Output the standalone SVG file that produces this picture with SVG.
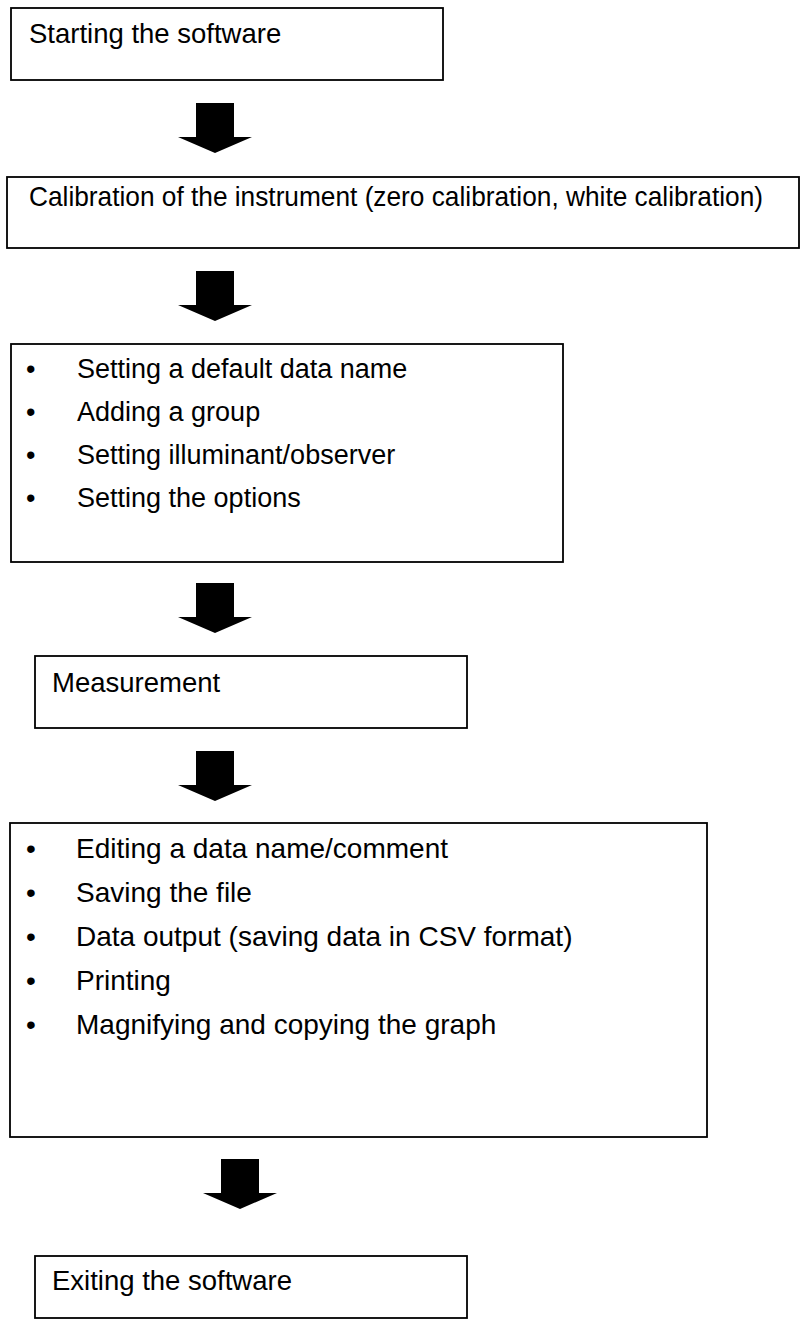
<svg xmlns="http://www.w3.org/2000/svg" width="801" height="1323" viewBox="0 0 801 1323">
<style>
.box{fill:#fff;stroke:#000;stroke-width:1.8}
.t{font-family:"Liberation Sans",Arial,sans-serif;font-size:27.5px;fill:#000}
.s{font-size:27px}
.l{font-size:28px}
.arrow{fill:#000}
</style>
<defs>
<path id="arr" d="M-19,0 H19 V34 H37 L0,50 L-37,34 H-19 Z"/>
</defs>
<rect width="801" height="1323" fill="#fff"/>
<g id="connectors">
<use href="#arr" class="arrow" transform="translate(215,103)"/>
<use href="#arr" class="arrow" transform="translate(215,271)"/>
<use href="#arr" class="arrow" transform="translate(215,583)"/>
<use href="#arr" class="arrow" transform="translate(215,751)"/>
<use href="#arr" class="arrow" transform="translate(240,1159)"/>
</g>
<g id="start">
<rect class="box" x="11" y="8" width="432" height="72"/>
<text class="t" x="29" y="43">Starting the software</text>
</g>
<g id="calibration">
<rect class="box" x="7" y="177" width="792" height="71"/>
<text class="t" x="29" y="206" textLength="734" lengthAdjust="spacingAndGlyphs">Calibration of the instrument (zero calibration, white calibration)</text>
</g>
<g id="settings">
<rect class="box" x="11" y="344" width="552" height="218"/>
<text class="t s" x="26" y="378">•</text><text class="t s" x="77" y="378">Setting a default data name</text>
<text class="t s" x="26" y="421">•</text><text class="t s" x="77" y="421">Adding a group</text>
<text class="t s" x="26" y="464">•</text><text class="t s" x="77" y="464">Setting illuminant/observer</text>
<text class="t s" x="26" y="507">•</text><text class="t s" x="77" y="507">Setting the options</text>
</g>
<g id="measurement">
<rect class="box" x="35" y="656" width="432" height="72"/>
<text class="t" x="52" y="692">Measurement</text>
</g>
<g id="editing">
<rect class="box" x="10" y="823" width="697" height="314"/>
<text class="t l" x="26" y="858">•</text><text class="t l" x="76" y="858">Editing a data name/comment</text>
<text class="t l" x="26" y="902">•</text><text class="t l" x="76" y="902">Saving the file</text>
<text class="t l" x="26" y="946">•</text><text class="t l" x="76" y="946">Data output (saving data in CSV format)</text>
<text class="t l" x="26" y="990">•</text><text class="t l" x="76" y="990">Printing</text>
<text class="t l" x="26" y="1034">•</text><text class="t l" x="76" y="1034">Magnifying and copying the graph</text>
</g>
<g id="exit">
<rect class="box" x="35" y="1256" width="432" height="62"/>
<text class="t" x="52" y="1290">Exiting the software</text>
</g>
</svg>
